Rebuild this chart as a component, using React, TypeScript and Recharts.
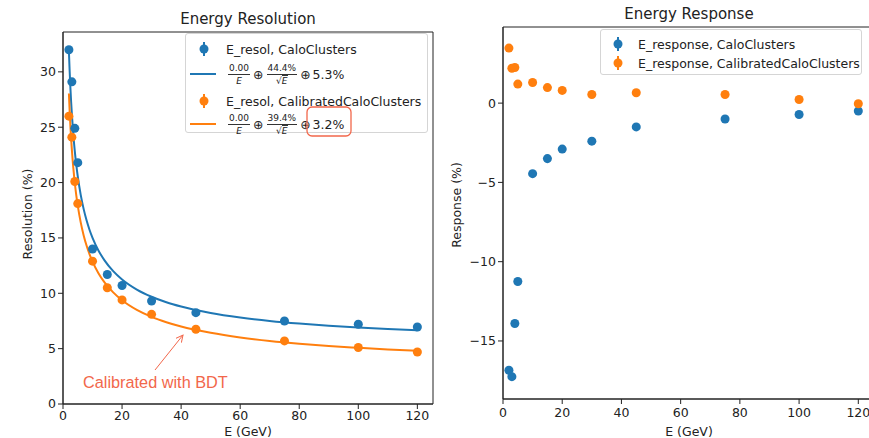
import React from "react";
import { ComposedChart, Line, Scatter, XAxis, YAxis, ReferenceArea } from "recharts";

const BLUE = "#1f77b4";
const ORANGE = "#ff7f0e";
const NOTE = "#f2674b";
const INK = "#222";
const FONT = "'DejaVu Sans', sans-serif";

// beam energies (GeV)
const energies = [2, 3, 4, 5, 10, 15, 20, 30, 45, 75, 100, 120];

// resolution (%) per energy
const resolCalo = [32.0, 29.1, 24.9, 21.8, 14.0, 11.7, 10.7, 9.3, 8.25, 7.5, 7.2, 6.95];
const resolCalib = [26.0, 24.1, 20.1, 18.1, 12.9, 10.5, 9.4, 8.1, 6.75, 5.7, 5.1, 4.7];

// fitted curves
const fitE = [2, 2.25, 2.5, 2.75, 3, 3.5, 4, 4.5, 5, 6, 7, 8, 9, 10, 12, 14, 17, 20, 25, 30, 35, 40, 50, 60, 70, 80, 90, 100, 110, 120];
const fitCalo = [31.84, 30.07, 28.58, 27.29, 26.18, 24.32, 22.82, 21.59, 20.55, 18.89, 17.6, 16.57, 15.72, 15.01, 13.87, 13.0, 12.0, 11.25, 10.34, 9.69, 9.19, 8.8, 8.22, 7.81, 7.5, 7.26, 7.07, 6.91, 6.78, 6.67];
const fitCalib = [28.04, 26.46, 25.12, 23.97, 22.97, 21.3, 19.96, 18.85, 17.91, 16.4, 15.23, 14.29, 13.52, 12.86, 11.82, 11.01, 10.08, 9.37, 8.5, 7.87, 7.39, 7.0, 6.43, 6.01, 5.69, 5.44, 5.24, 5.08, 4.93, 4.81];

// response (%) per energy
const respCalo = [-16.85, -17.25, -13.9, -11.25, -4.45, -3.5, -2.9, -2.4, -1.5, -1.0, -0.72, -0.5];
const respCalib = [3.47, 2.2, 2.25, 1.2, 1.3, 0.98, 0.8, 0.54, 0.65, 0.54, 0.23, -0.04];

const xTicks = [0, 20, 40, 60, 80, 100, 120];
const resolTicks = [0, 5, 10, 15, 20, 25, 30];
const respTicks = [-15, -10, -5, 0];

const X_MAX = 125.3;
const RESOL_DOMAIN = [0, 33.6];
const RESP_DOMAIN = [-18.66, 4.8];

const pts = (ys: number[]) => energies.map((x, i) => ({ x, y: ys[i] }));
const fitPts = (ys: number[]) => fitE.map((x, i) => ({ x, y: ys[i] }));

const tickStyle = { fill: INK, fontSize: 12.5, fontFamily: FONT };
const minus = (v: number) => String(v).replace("-", "\u2212");

function ResolutionChart() {
  return (
    <ComposedChart width={440} height={438} margin={{ top: 32, right: 7, left: 0, bottom: 0 }}>
      <XAxis
        type="number"
        dataKey="x"
        domain={[0, X_MAX]}
        ticks={xTicks}
        height={34}
        tick={tickStyle}
        tickSize={5}
        tickMargin={2}
        axisLine={{ stroke: INK }}
        tickLine={{ stroke: INK }}
        allowDataOverflow
      />
      <YAxis
        type="number"
        dataKey="y"
        domain={RESOL_DOMAIN}
        ticks={resolTicks}
        width={63}
        tick={tickStyle}
        tickSize={5}
        tickMargin={2}
        axisLine={{ stroke: INK }}
        tickLine={{ stroke: INK }}
        allowDataOverflow
      />
      <ReferenceArea x1={0} x2={X_MAX} y1={RESOL_DOMAIN[0]} y2={RESOL_DOMAIN[1]} fill="none" stroke={INK} strokeWidth={1} />
      <Line data={fitPts(fitCalo)} dataKey="y" type="monotone" stroke={BLUE} strokeWidth={2} dot={false} isAnimationActive={false} />
      <Line data={fitPts(fitCalib)} dataKey="y" type="monotone" stroke={ORANGE} strokeWidth={2} dot={false} isAnimationActive={false} />
      <Scatter data={pts(resolCalo)} fill={BLUE} isAnimationActive={false} />
      <Scatter data={pts(resolCalib)} fill={ORANGE} isAnimationActive={false} />
    </ComposedChart>
  );
}

function ResponseChart() {
  return (
    <ComposedChart width={440} height={438} margin={{ top: 27, right: 6, left: 0, bottom: 0 }}>
      <XAxis
        type="number"
        dataKey="x"
        domain={[0, X_MAX]}
        ticks={xTicks}
        height={39}
        tick={tickStyle}
        tickSize={5}
        tickMargin={4}
        axisLine={{ stroke: INK }}
        tickLine={{ stroke: INK }}
        allowDataOverflow
      />
      <YAxis
        type="number"
        dataKey="y"
        domain={RESP_DOMAIN}
        ticks={respTicks}
        width={63}
        tick={tickStyle}
        tickSize={5}
        tickMargin={2}
        tickFormatter={minus}
        axisLine={{ stroke: INK }}
        tickLine={{ stroke: INK }}
        allowDataOverflow
      />
      <ReferenceArea x1={0} x2={X_MAX} y1={RESP_DOMAIN[0]} y2={RESP_DOMAIN[1]} fill="none" stroke={INK} strokeWidth={1} />
      <Scatter data={pts(respCalo)} fill={BLUE} isAnimationActive={false} />
      <Scatter data={pts(respCalib)} fill={ORANGE} isAnimationActive={false} />
    </ComposedChart>
  );
}

function ErrMarker({ color }: { color: string }) {
  return (
    <svg width={12} height={16} style={{ display: "block" }}>
      <line x1={6} y1={1} x2={6} y2={15} stroke={color} strokeWidth={2} />
      <circle cx={6} cy={8} r={4.5} fill={color} />
    </svg>
  );
}

function Frac({ top, bottom }: { top: string; bottom: React.ReactNode }) {
  return (
    <span style={{ display: "inline-flex", flexDirection: "column", alignItems: "center", fontSize: 9, lineHeight: "10px", margin: "0 2px" }}>
      <span style={{ borderBottom: "0.8px solid #333", padding: "0 1px 1px" }}>{top}</span>
      <span style={{ paddingTop: 1 }}>{bottom}</span>
    </span>
  );
}

function Formula({ stoch, constant }: { stoch: string; constant: string }) {
  const sqrtE = (
    <span>
      √<span style={{ borderTop: "0.8px solid #333", fontStyle: "italic" }}>E</span>
    </span>
  );
  return (
    <span style={{ display: "inline-flex", alignItems: "center", fontSize: 12.5, whiteSpace: "nowrap" }}>
      <Frac top="0.00" bottom={<i>E</i>} />
      <span style={{ margin: "0 1px" }}>⊕</span>
      <Frac top={stoch} bottom={sqrtE} />
      <span style={{ margin: "0 2px 0 1px" }}>⊕</span>
      <span>{constant}</span>
    </span>
  );
}

type Row = { y: number; kind: "marker" | "line"; color: string; label: React.ReactNode };

function LegendBox({ left, top, width, height, rows, textX, markerX }: {
  left: number; top: number; width: number; height: number; rows: Row[]; textX: number; markerX: number;
}) {
  return (
    <div
      style={{
        position: "absolute", left, top, width, height, boxSizing: "border-box",
        border: "1px solid #d5d5d5", borderRadius: 3, background: "rgba(255,255,255,0.85)",
        fontFamily: FONT, color: INK,
      }}
    >
      {rows.map((r, i) => (
        <React.Fragment key={i}>
          {r.kind === "marker" ? (
            <div style={{ position: "absolute", left: markerX - 6, top: r.y - 8 }}>
              <ErrMarker color={r.color} />
            </div>
          ) : (
            <div style={{ position: "absolute", left: 4, top: r.y - 1, width: 26, height: 2, background: r.color }} />
          )}
          <div style={{ position: "absolute", left: textX, top: r.y - 12, height: 24, display: "flex", alignItems: "center", fontSize: 12.5, whiteSpace: "nowrap" }}>
            {r.label}
          </div>
        </React.Fragment>
      ))}
    </div>
  );
}

function Overlay() {
  return (
    <svg width={869} height={438} style={{ position: "absolute", left: 0, top: 0, pointerEvents: "none" }}>
      <defs>
        <marker id="arrowHead" markerWidth={8} markerHeight={8} refX={7} refY={4} orient="auto" markerUnits="userSpaceOnUse">
          <path d="M0,0.5 L7,4 L0,7.5" fill="none" stroke={NOTE} strokeWidth={1} />
        </marker>
      </defs>
      <g fontFamily={FONT} fill={INK}>
        <text x={248} y={24} fontSize={15} textAnchor="middle">Energy Resolution</text>
        <text x={689} y={19} fontSize={15} textAnchor="middle">Energy Response</text>
        <text x={27} y={214} fontSize={12.5} textAnchor="middle" dominantBaseline="central" transform="rotate(-90 27 214)">Resolution (%)</text>
        <text x={456} y={205} fontSize={12.5} textAnchor="middle" dominantBaseline="central" transform="rotate(-90 456 205)">Response (%)</text>
        <text x={248} y={435.5} fontSize={12.5} textAnchor="middle">E (GeV)</text>
        <text x={689} y={436} fontSize={12.5} textAnchor="middle">E (GeV)</text>
      </g>
      <rect x={307} y={107} width={44} height={29} rx={5} fill="none" stroke={NOTE} strokeWidth={1.3} />
      <line x1={155} y1={370} x2={183} y2={335} stroke={NOTE} strokeWidth={1} markerEnd="url(#arrowHead)" />
      <text x={83} y={388} fontSize={16.3} fontFamily="'Liberation Sans', Arial, sans-serif" fill={NOTE}>Calibrated with BDT</text>
    </svg>
  );
}

export default function App() {
  const resolRows: Row[] = [
    { y: 15, kind: "marker", color: BLUE, label: "E_resol, CaloClusters" },
    { y: 40, kind: "line", color: BLUE, label: <Formula stoch="44.4%" constant="5.3%" /> },
    { y: 67, kind: "marker", color: ORANGE, label: "E_resol, CalibratedCaloClusters" },
    { y: 90, kind: "line", color: ORANGE, label: <Formula stoch="39.4%" constant="3.2%" /> },
  ];
  const respRows: Row[] = [
    { y: 14, kind: "marker", color: BLUE, label: "E_response, CaloClusters" },
    { y: 33, kind: "marker", color: ORANGE, label: "E_response, CalibratedCaloClusters" },
  ];
  return (
    <div style={{ position: "absolute", left: 0, top: 0, width: 869, height: 438, overflow: "hidden", background: "#fff" }}>
      <div style={{ position: "absolute", left: 0, top: 0 }}>
        <ResolutionChart />
      </div>
      <div style={{ position: "absolute", left: 440, top: 0 }}>
        <ResponseChart />
      </div>
      <LegendBox left={185} top={33} width={243} height={100} rows={resolRows} textX={40} markerX={18} />
      <LegendBox left={600} top={29} width={262} height={46} rows={respRows} textX={37} markerX={17} />
      <Overlay />
    </div>
  );
}
